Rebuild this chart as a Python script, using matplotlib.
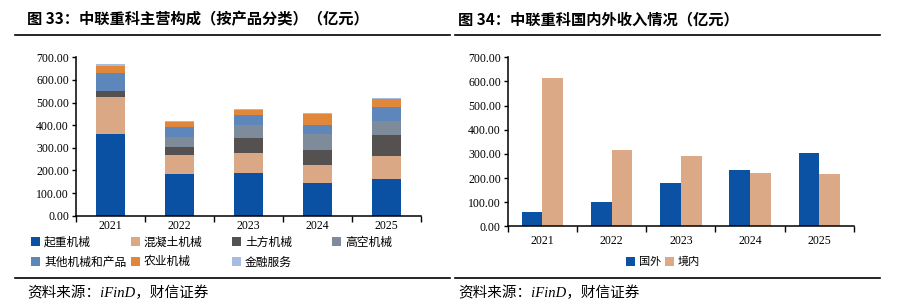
import matplotlib.pyplot as plt
import numpy as np

plt.rcParams['font.family'] = ['Liberation Serif', 'Noto Sans CJK SC', 'DejaVu Sans']

# ---- left chart data (亿元) ----
years = ['2021', '2022', '2023', '2024', '2025']
seg_names = ['起重机械', '混凝土机械', '土方机械', '高空机械',
             '其他机械和产品', '农业机械', '金融服务']
qizhong = [360, 184, 189, 143, 162]
hunningtu = [163, 86, 86, 81, 100]
tufang = [30, 34, 68, 66, 96]
gaokong = [0, 43, 56, 69, 62]
qita = [79, 44, 46, 41, 60]
nongye = [31, 21, 21, 51, 36]
jinrong = [6, 5, 4, 2, 4]
seg_colors = ['#0b51a3', '#dba886', '#565151', '#7e8b9a',
              '#5d87bb', '#e0873b', '#a7bde0']

# ---- right chart data (亿元) ----
guowai = [59, 102, 180, 235, 305]
jingnei = [613, 318, 293, 222, 217]

cjk = ['Noto Sans CJK SC', 'DejaVu Sans']
src = ['Liberation Serif', 'Noto Sans CJK SC']

fig = plt.figure(figsize=(8.98, 3.06), dpi=100)

# titles and rules
fig.text(27/898, 1-19/306, '图 33：中联重科主营构成（按产品分类）（亿元）',
         family=cjk, fontsize=11, fontweight='bold', va='center')
fig.text(458/898, 1-19/306, '图 34：中联重科国内外收入情况（亿元）',
         family=cjk, fontsize=11, fontweight='bold', va='center')
for x0, x1 in [(15, 450), (455, 880)]:
    fig.add_artist(plt.Line2D([x0/898, x1/898], [1-35/306]*2, color='black', lw=1.2))
    fig.add_artist(plt.Line2D([x0/898, x1/898], [1-278/306]*2, color='black', lw=1.2))
for xs in (27, 458):
    fig.text(xs/898, 1-293/306, '资料来源：iFinD，财信证券', family=src,
             fontsize=10.5, style='italic', va='center')


def style_axis(ax, xpad):
    ax.set_ylim(0, 700)
    ax.set_yticks(np.arange(0, 701, 100))
    ax.set_yticklabels(['%.2f' % v for v in np.arange(0, 701, 100)])
    ax.set_xlim(-0.5, 4.5)
    ax.set_xticks(np.arange(-0.5, 5, 1))
    ax.set_xticks(np.arange(5), minor=True)
    ax.set_xticklabels([])
    ax.set_xticklabels(years, minor=True)
    ax.tick_params(axis='x', which='major', length=4, direction='out', width=1)
    ax.tick_params(axis='x', which='minor', length=0, labelsize=8.5, pad=xpad)
    ax.tick_params(axis='y', length=3, width=1, labelsize=8.5, pad=2)
    for s in ['top', 'right']:
        ax.spines[s].set_visible(False)
    for s in ['left', 'bottom']:
        ax.spines[s].set_linewidth(1.1)


# left stacked bars
ax1 = fig.add_axes([76/898, 1-215.7/306, 345/898, 158.4/306])
x = np.arange(len(years))
series = [qizhong, hunningtu, tufang, gaokong, qita, nongye, jinrong]
bottom = np.zeros(len(years))
handles = []
for vals, name, c in zip(series, seg_names, seg_colors):
    b = ax1.bar(x, vals, 0.43, bottom=bottom, color=c, label=name)
    handles.append(b)
    bottom += np.array(vals)
style_axis(ax1, 3)

# legend laid out row by row, one legend per column
col_x = [31, 131, 232, 332]
for col in range(4):
    idx = [i for i in (col, col + 4) if i < len(seg_names)]
    fig.legend([handles[i] for i in idx], [seg_names[i] for i in idx],
               loc='upper left', bbox_to_anchor=(col_x[col]/898, 1-236/306),
               frameon=False, prop={'family': cjk, 'size': 8.5},
               handlelength=0.8, handleheight=0.8, handletextpad=0.3,
               labelspacing=0.55, borderpad=0, borderaxespad=0)

# right grouped bars
ax2 = fig.add_axes([507.7/898, 1-226.3/306, 346.3/898, 169/306])
w = 0.3
b1 = ax2.bar(x - w/2, guowai, w, color='#0b52a5', label='国外')
b2 = ax2.bar(x + w/2, jingnei, w, color='#dca987', label='境内')
style_axis(ax2, 6)
fig.legend([b1, b2], ['国外', '境内'], loc='center',
           bbox_to_anchor=(663/898, 1-262/306), ncol=2, frameon=False,
           prop={'family': cjk, 'size': 8}, handlelength=0.8, handleheight=0.8,
           handletextpad=0.3, columnspacing=0.4, borderpad=0)

fig.savefig('out.png', dpi=100)
